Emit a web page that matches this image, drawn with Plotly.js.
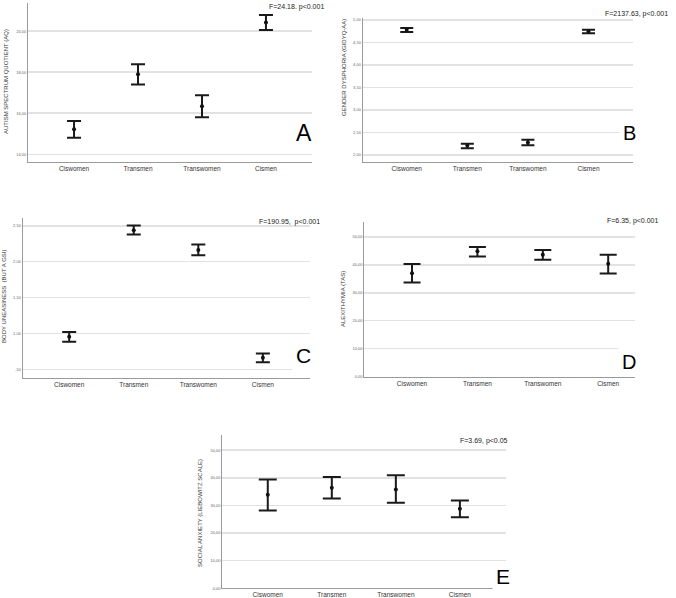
<!DOCTYPE html>
<html>
<head>
<meta charset="utf-8">
<script src="https://cdn.plot.ly/plotly-3.0.1.min.js"></script>
<style>html,body{margin:0;padding:0;background:#fff;}#chart{width:676px;height:598px;}</style>
</head>
<body>
<div id="chart"></div>
<script>
// ---------- data ----------
const categories = ["Ciswomen", "Transmen", "Transwomen", "Cismen"];

const aqMean  = [15.22, 17.90, 16.34, 20.42];
const aqLow   = [14.81, 17.40, 15.80, 20.05];
const aqHigh  = [15.62, 18.39, 16.88, 20.78];
const aqTicks = [14, 16, 18, 20];
const aqTickText = ["14,00", "16,00", "18,00", "20,00"];

const gdMean  = [4.78, 2.21, 2.28, 4.74];
const gdLow   = [4.73, 2.15, 2.22, 4.70];
const gdHigh  = [4.82, 2.25, 2.34, 4.78];
const gdTicks = [2, 2.5, 3, 3.5, 4, 4.5, 5];
const gdTickText = ["2,00", "2,50", "3,00", "3,50", "4,00", "4,50", "5,00"];

const buMean  = [0.954, 2.44, 2.165, 0.66];
const buLow   = [0.884, 2.38, 2.09, 0.60];
const buHigh  = [1.02, 2.505, 2.24, 0.72];
const buTicks = [0.5, 1, 1.5, 2, 2.5];
const buTickText = [",50", "1,00", "1,50", "2,00", "2,50"];

const alMean  = [37.0, 44.8, 43.6, 40.4];
const alLow   = [33.7, 43.0, 41.8, 36.9];
const alHigh  = [40.25, 46.4, 45.3, 43.6];
const alTicks = [0, 10, 20, 30, 40, 50];
const alTickText = ["0,00", "10,00", "20,00", "30,00", "40,00", "50,00"];

const saMean  = [33.9, 36.4, 35.8, 28.8];
const saLow   = [28.2, 32.5, 31.0, 25.7];
const saHigh  = [39.4, 40.3, 40.9, 31.8];
const saTicks = [0, 10, 20, 30, 40, 50];
const saTickText = ["0,00", "10,00", "20,00", "30,00", "40,00", "50,00"];

const yTitles = ["AUTISM SPECTRUM QUOTIENT (AQ)", "GENDER DYSPHORIA (GIDYQ-AA)", "BODY UNEASINESS  (BUT A GSI)", "ALEXITHYMIA (TAS)", "SOCIAL ANXIETY (LIEBOWITZ SCALE)"];
const statTexts = ["F=24.18. p<0.001", "F=2137.63, p<0.001", "F=190.95,  p<0.001", "F=6.35, p<0.001", "F=3.69, p<0.05"];
const panelLetters = ["A", "B", "C", "D", "E"];

// ---------- layout helpers ----------
const W = 676, H = 598;
const px = x => x / W;
const py = y => 1 - y / H;

const panels = [
  {mean: aqMean, low: aqLow, high: aqHigh, tv: aqTicks, tt: aqTickText,
   box: [28, 312, 3, 162.3], xr: [-0.72, 3.72], yr: [13.61, 21.37], cap: 7,
   title: [6, 82], stat: [296, 7], letter: [303.5, 133], lsize: 23},
  {mean: gdMean, low: gdLow, high: gdHigh, tv: gdTicks, tt: gdTickText,
   box: [362.7, 632.7, 18, 162.3], xr: [-0.727, 3.73], yr: [1.84, 5.04], cap: 6.5,
   title: [344, 68], stat: [636.5, 14], letter: [629, 133], lsize: 20},
  {mean: buMean, low: buLow, high: buHigh, tv: buTicks, tt: buTickText,
   box: [22.7, 310, 218, 377.7], xr: [-0.72, 3.73], yr: [0.383, 2.61], cap: 7,
   title: [4, 297], stat: [289.5, 222], letter: [303.5, 355.7], lsize: 21},
  {mean: alMean, low: alLow, high: alHigh, tv: alTicks, tt: alTickText,
   box: [364.3, 635, 221.7, 376.7], xr: [-0.73, 3.41], yr: [0, 55.4], cap: 8.5,
   title: [343, 299], stat: [632.5, 221], letter: [629, 361.7], lsize: 20},
  {mean: saMean, low: saLow, high: saHigh, tv: saTicks, tt: saTickText,
   box: [222.3, 506, 435, 588.3], xr: [-0.71, 3.72], yr: [0, 55.5], cap: 9,
   title: [200, 513], stat: [483.5, 441], letter: [502.5, 576], lsize: 21}
];

const FONT = "Liberation Sans, Arial, sans-serif";
const traces = [];
const layout = {
  width: W, height: H,
  margin: {l: 0, r: 0, t: 0, b: 0},
  paper_bgcolor: "#fff", plot_bgcolor: "#fff",
  showlegend: false,
  font: {family: FONT, color: "#333"},
  annotations: []
};

panels.forEach((p, i) => {
  const n = i + 1;
  const xa = "x" + n, ya = "y" + n;
  traces.push({
    type: "scatter", mode: "markers",
    x: categories, y: p.mean,
    xaxis: xa, yaxis: ya,
    marker: {color: "#111", size: 4},
    error_y: {
      type: "data", symmetric: false,
      array: p.high.map((h, k) => h - p.mean[k]),
      arrayminus: p.low.map((l, k) => p.mean[k] - l),
      color: "#1a1a1a", thickness: 2, width: p.cap
    },
    hoverinfo: "skip"
  });
  layout["xaxis" + n] = {
    domain: [px(p.box[0]), px(p.box[1])], anchor: ya,
    type: "category", range: p.xr,
    showgrid: false, zeroline: false,
    showline: true, linecolor: "#9a9a9a", linewidth: 1,
    ticks: "", tickfont: {size: 6.5, color: "#333", family: FONT},
    fixedrange: true
  };
  layout["yaxis" + n] = {
    domain: [py(p.box[3]), py(p.box[2])], anchor: xa,
    range: p.yr,
    tickvals: p.tv, ticktext: p.tt,
    showgrid: true, gridcolor: "#e2e2e2", gridwidth: 1.5,
    zeroline: false,
    showline: true, linecolor: "#9a9a9a", linewidth: 1,
    ticks: "", tickfont: {size: 4, color: "#666", family: FONT},
    fixedrange: true
  };
  layout.annotations.push({
    xref: "paper", yref: "paper",
    x: px(p.title[0]), y: py(p.title[1]),
    text: yTitles[i], textangle: -90, showarrow: false,
    font: {size: 6, color: "#333", family: FONT},
    xanchor: "center", yanchor: "middle"
  });
  layout.annotations.push({
    xref: "paper", yref: "paper",
    x: px(p.stat[0]), y: py(p.stat[1]),
    text: statTexts[i], showarrow: false,
    font: {size: 7, color: "#222", family: FONT},
    xanchor: "center", yanchor: "middle"
  });
  layout.annotations.push({
    xref: "paper", yref: "paper",
    x: px(p.letter[0]), y: py(p.letter[1]),
    text: panelLetters[i], showarrow: false,
    bgcolor: "#fff", borderpad: 3,
    font: {size: p.lsize, color: "#000", family: FONT},
    xanchor: "center", yanchor: "middle"
  });
});

Plotly.newPlot("chart", traces, layout, {displayModeBar: false, staticPlot: true});
</script>
</body>
</html>
